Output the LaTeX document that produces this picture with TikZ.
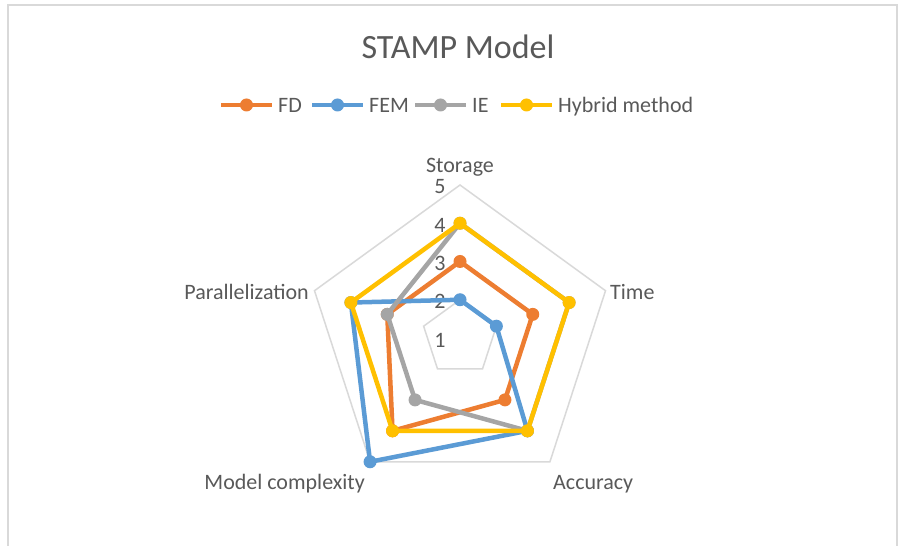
\documentclass[tikz,border=0pt]{standalone}
\usepackage{fontspec}
\setmainfont{Carlito}
\usetikzlibrary{calc}
\definecolor{cfd}{HTML}{ED7D31}
\definecolor{cfem}{HTML}{5B9BD5}
\definecolor{cie}{HTML}{A5A5A5}
\definecolor{chy}{HTML}{FFC000}
\definecolor{ctxt}{HTML}{595959}
\definecolor{cgrid}{HTML}{D9D9D9}
\newcommand\radc[3]{\coordinate (#1) at ([shift={(#2:#3pt)}]C);}
\begin{document}
\begin{tikzpicture}[x=1pt,y=1pt,
  ser/.style={line width=4.5pt, line join=round},
  mk/.style={circle, inner sep=0pt, minimum size=13pt},
  lbl/.style={text=ctxt, font=\fontsize{22}{26}\selectfont, inner sep=0pt},
  gridline/.style={cgrid, line width=1.5pt}]
\useasboundingbox (0,0) rectangle (902,546);
\fill[white] (0,0) rectangle (902,546);
\draw[cgrid, line width=2.5pt] (8,0) -- (8,541) -- (897,541) -- (897,0);
% centre
\coordinate (C) at (460,208);
% grid pentagons
\radc{g5a}{90}{153}\radc{g5b}{18}{153}\radc{g5c}{-54}{153}\radc{g5d}{-126}{153}\radc{g5e}{162}{153}
\radc{g2a}{90}{38.25}\radc{g2b}{18}{38.25}\radc{g2c}{-54}{38.25}\radc{g2d}{-126}{38.25}\radc{g2e}{162}{38.25}
\draw[gridline] (g5a) -- (g5b) -- (g5c) -- (g5d) -- (g5e) -- cycle;
\draw[gridline] (g2a) -- (g2b) -- (g2c) -- (g2d) -- (g2e) -- cycle;
% value labels
\foreach \k in {1,...,5}{
  \node[lbl] (v\k) at ($(C)+(-20,{(\k-1)*38.25-2})$) {\k};
}
% data points
\radc{fd1}{90}{76.5}\radc{fd2}{18}{76.5}\radc{fd3}{-54}{76.5}\radc{fd4}{-126}{114.75}\radc{fd5}{162}{76.5}
\radc{fe1}{90}{38.25}\radc{fe2}{18}{38.25}\radc{fe3}{-54}{114.75}\radc{fe4}{-126}{153}\radc{fe5}{162}{114.75}
\radc{ie1}{90}{114.75}\radc{ie2}{18}{114.75}\radc{ie3}{-54}{114.75}\radc{ie4}{-126}{76.5}\radc{ie5}{162}{76.5}
\radc{hy1}{90}{114.75}\radc{hy2}{18}{114.75}\radc{hy3}{-54}{114.75}\radc{hy4}{-126}{114.75}\radc{hy5}{162}{114.75}
\foreach \s/\c in {fd/cfd, fe/cfem, ie/cie, hy/chy}{
  \draw[ser, \c] (\s1) -- (\s2) -- (\s3) -- (\s4) -- (\s5) -- cycle;
  \foreach \i in {1,...,5}{
    \node[mk, fill=\c] (\s m\i) at (\s\i) {};
  }
}
% axis labels
\node[lbl] (lstor) at (460,379) {Storage};
\node[lbl, anchor=west] (ltime) at (610,254) {Time};
\node[lbl, anchor=west] (lacc) at (553,62) {Accuracy};
\node[lbl, anchor=east] (lmod) at (365,62) {Model complexity};
\node[lbl, anchor=east] (lpar) at (309,254) {Parallelization};
% title
\node[text=ctxt, font=\fontsize{34}{40}\selectfont, inner sep=0pt] (title) at (458,499) {STAMP Model};
% legend
\foreach \n/\c/\xa/\t in {1/cfd/221/FD, 2/cfem/312/FEM, 3/cie/415/IE, 4/chy/501/Hybrid method}{
  \coordinate (la\n) at (\xa,441);
  \coordinate (lb\n) at (\xa+51,441);
  \draw[ser, \c] (la\n) -- (lb\n);
  \node[mk, fill=\c] (lm\n) at ($(la\n)!0.5!(lb\n)$) {};
  \node[lbl, anchor=base west] (lt\n) at (\xa+57,433) {\t};
}
\end{tikzpicture}
\end{document}
